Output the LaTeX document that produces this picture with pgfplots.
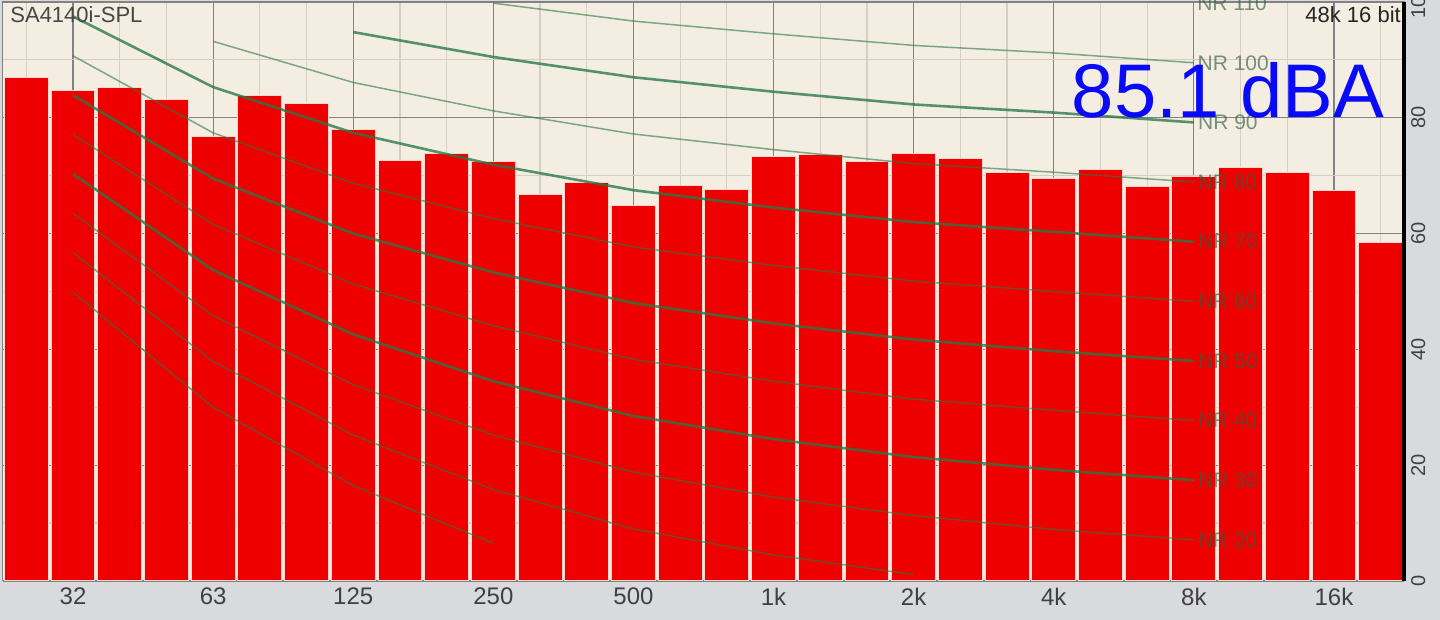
\documentclass[border=0pt]{standalone}
\usepackage{fontspec}
\setmainfont{Liberation Sans}
\usepackage{pgfplots}
\pgfplotsset{compat=1.18}

\definecolor{outerbg}{RGB}{217,218,221}
\definecolor{cream}{RGB}{244,237,225}
\definecolor{barred}{RGB}{238,0,0}
\definecolor{baredge}{RGB}{250,215,205}
\definecolor{majgrid}{RGB}{130,130,130}
\definecolor{mingrid}{RGB}{214,206,194}
\definecolor{nrline}{RGB}{40,120,70}
\definecolor{nrtext}{RGB}{50,95,65}
\definecolor{dbablue}{RGB}{10,10,250}

\pgfplotsset{
  nrthick/.style={draw=nrline, line width=1.3pt, draw opacity=0.78, mark=none},
  nrthin/.style={draw=nrline, line width=0.75pt, draw opacity=0.6, mark=none},
}
\tikzset{
  nrlabel/.style={anchor=west, inner sep=1.5pt, text=nrtext, text opacity=0.65,
    font=\fontsize{10.5}{12}\selectfont},
}

\begin{document}
\begin{tikzpicture}
\path[use as bounding box, fill=outerbg] (-1.5pt,-19.5pt) rectangle (718.5pt,290.5pt);
\clip (-1.5pt,-19.5pt) rectangle (718.5pt,290.5pt);
\begin{axis}[
  at={(0,0)}, anchor=south west,
  scale only axis, width=700.5pt, height=289.5pt,
  xmin=0.5, xmax=30.5, ymin=0, ymax=100,
  clip mode=individual,
  axis background/.style={fill=cream},
  axis line style={draw=majgrid, line width=0.5pt},
  xtick={2,5,...,29},
  xticklabels={32,63,125,250,500,1k,2k,4k,8k,16k},
  minor xtick={1,...,30},
  ytick={0,20,...,100},
  minor ytick={10,30,...,90},
  grid=both,
  major grid style={draw=majgrid, line width=0.6pt},
  minor grid style={draw=mingrid, line width=0.6pt},
  major tick length=0pt, minor tick length=0pt,
  yticklabel pos=right,
  ticklabel style={text=black!75},
  xticklabel style={font=\fontsize{12}{14}\selectfont},
  yticklabel style={font=\fontsize{10}{12}\selectfont, rotate=90, anchor=north},
  /pgf/number format/assume math mode=true,
]
% 1/3-octave band levels, 25 Hz ... 20 kHz
\addplot[ybar, bar width=0.94, fill=barred, draw=baredge, line width=0.5pt] coordinates {
  (1,87.0) (2,84.7) (3,85.2) (4,83.2) (5,76.7) (6,83.8) (7,82.5) (8,78.0)
  (9,72.6) (10,73.8) (11,72.4) (12,66.7) (13,68.8) (14,64.9) (15,68.3)
  (16,67.6) (17,73.4) (18,73.6) (19,72.5) (20,73.8) (21,72.9) (22,70.5)
  (23,69.6) (24,71.0) (25,68.1) (26,69.9) (27,71.4) (28,70.5) (29,67.5)
  (30,58.4) };

% NR curves at octave centres 31.5 ... 8k
\addplot[nrthin] coordinates {(2,49.9) (5,30.0) (8,16.5) (11,6.5)};
\addplot[nrthin] coordinates {(2,56.7) (5,37.9) (8,25.2) (11,15.8) (14,9.0) (17,4.5) (20,1.1)};
\addplot[nrthin] coordinates {(2,63.5) (5,45.8) (8,33.9) (11,25.2) (14,18.8) (17,14.5) (20,11.3) (23,8.9) (26,7.1)}
  node[nrlabel, pos=1] {NR 20};
\addplot[nrthick] coordinates {(2,70.3) (5,53.7) (8,42.6) (11,34.5) (14,28.5) (17,24.5) (20,21.4) (23,19.2) (26,17.4)}
  node[nrlabel, pos=1] {NR 30};
\addplot[nrthin] coordinates {(2,77.1) (5,61.6) (8,51.3) (11,44.1) (14,38.3) (17,34.5) (20,31.4) (23,29.5) (26,27.7)}
  node[nrlabel, pos=1] {NR 40};
\addplot[nrthick] coordinates {(2,83.9) (5,69.5) (8,60.0) (11,53.3) (14,48.0) (17,44.5) (20,41.7) (23,39.7) (26,38.0)}
  node[nrlabel, pos=1] {NR 50};
\addplot[nrthin] coordinates {(2,90.7) (5,77.4) (8,68.7) (11,62.6) (14,57.7) (17,54.5) (20,51.8) (23,50.0) (26,48.3)}
  node[nrlabel, pos=1] {NR 60};
\addplot[nrthick] coordinates {(2,97.5) (5,85.3) (8,77.4) (11,71.9) (14,67.5) (17,64.5) (20,62.0) (23,60.3) (26,58.6)}
  node[nrlabel, pos=1] {NR 70};
\addplot[nrthin] coordinates {(5,93.2) (8,86.1) (11,81.2) (14,77.2) (17,74.5) (20,72.1) (23,70.6) (26,68.9)}
  node[nrlabel, pos=1] {NR 80};
\addplot[nrthick] coordinates {(8,94.8) (11,90.5) (14,87.0) (17,84.5) (20,82.3) (23,80.9) (26,79.2)}
  node[nrlabel, pos=1] {NR 90};
\addplot[nrthin] coordinates {(11,99.8) (14,96.7) (17,94.5) (20,92.5) (23,91.2) (26,89.5)}
  node[nrlabel, pos=1] {NR 100};
\node[nrlabel] at (axis cs:26,99.8) {NR 110};

\draw[black, line width=1.6pt] (rel axis cs:1,0) -- (rel axis cs:1,1);
\node[anchor=north west, inner sep=0pt, text=black!72, font=\fontsize{11}{13}\selectfont]
  at (rel axis cs:0.005,0.992) {SA4140i-SPL};
\node[anchor=north east, inner sep=0pt, text=black!85, font=\fontsize{11}{13}\selectfont]
  at (rel axis cs:0.998,0.992) {48k 16 bit};
\node[anchor=base east, inner sep=0pt, text=dbablue, font=\fontsize{38}{40}\selectfont]
  at (axis cs:30.09,80) {85.1 dBA};
\end{axis}
\end{tikzpicture}
\end{document}
